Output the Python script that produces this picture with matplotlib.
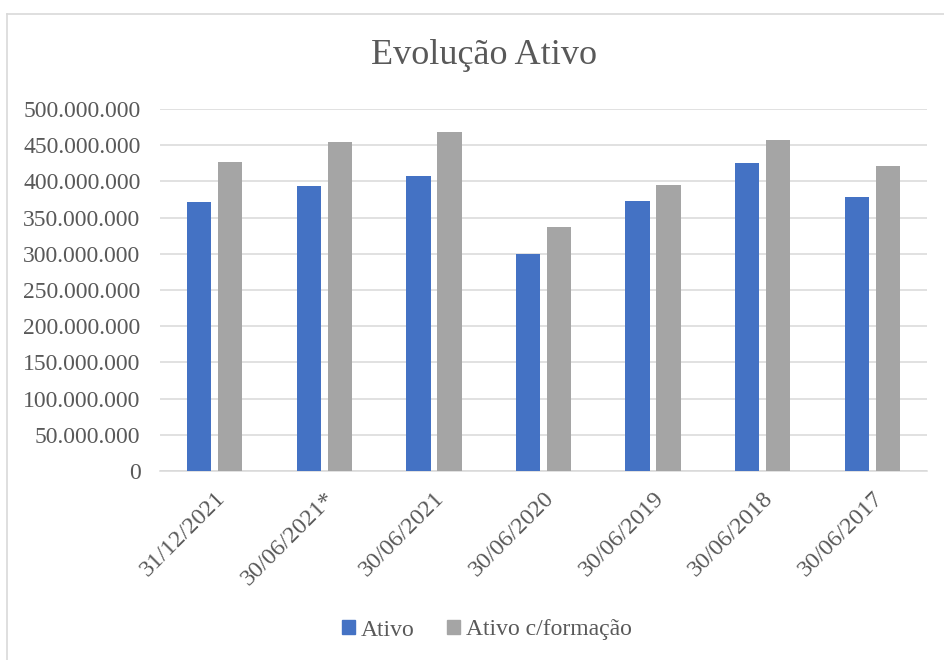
import matplotlib
matplotlib.use("Agg")
import matplotlib.pyplot as plt
import numpy as np
from matplotlib.ticker import FuncFormatter, MultipleLocator
from matplotlib.patches import Patch
from matplotlib.lines import Line2D

# Data
categories = ["31/12/2021", "30/06/2021*", "30/06/2021", "30/06/2020",
              "30/06/2019", "30/06/2018", "30/06/2017"]
ativo = [371_500_000, 393_000_000, 407_000_000, 300_000_000,
         373_000_000, 426_000_000, 378_000_000]
ativo_formacao = [427_000_000, 454_000_000, 468_500_000, 337_000_000,
                  394_500_000, 456_500_000, 421_000_000]
series_names = ["Ativo", "Ativo c/formação"]

BLUE = "#4472C4"
GRAY = "#A5A5A5"
TEXT = "#595959"
GRID = "#D9D9D9"

plt.rcParams["font.family"] = ["Liberation Serif", "DejaVu Serif"]

fig = plt.figure(figsize=(9.44, 6.6), dpi=100)
ax = fig.add_axes([160 / 944, 1 - 471 / 660, 767 / 944, 362 / 660])

x = np.arange(len(categories))
w = 0.222
gap = 0.061
ax.bar(x - (w + gap) / 2, ativo, width=w, color=BLUE, zorder=3)
ax.bar(x + (w + gap) / 2, ativo_formacao, width=w, color=GRAY, zorder=3)

ax.set_xlim(-0.5, len(categories) - 0.5)
ax.set_ylim(0, 500_000_000)
ax.yaxis.set_major_locator(MultipleLocator(50_000_000))
ax.yaxis.set_major_formatter(FuncFormatter(lambda v, p: f"{int(v):,}".replace(",", ".")))
ax.grid(axis="y", color=GRID, linewidth=1.1, zorder=0)

for s in ["left", "right", "top"]:
    ax.spines[s].set_visible(False)
ax.spines["bottom"].set_color(GRID)
ax.spines["bottom"].set_linewidth(1.1)

ax.tick_params(axis="y", length=0, pad=14, labelsize=17, labelcolor=TEXT)
ax.tick_params(axis="x", length=0, pad=12, labelsize=17.5, labelcolor=TEXT)
ax.set_xticks(x)
ax.set_xticklabels(categories, rotation=45, ha="right", rotation_mode="anchor")

fig.text(484 / 944, 1 - 56 / 660, "Evolução Ativo", ha="center", va="center",
         fontsize=26, color=TEXT)

handles = [Patch(color=BLUE), Patch(color=GRAY)]
fig.legend(handles, series_names, loc="center", bbox_to_anchor=(487 / 944, 1 - 630 / 660),
           ncol=2, frameon=False, fontsize=17, labelcolor=TEXT,
           handlelength=0.55, handleheight=0.55, handletextpad=0.25, columnspacing=1.4)

# chart border (top and left edges visible)
fig.add_artist(Line2D([7 / 944, 1.0], [1 - 14 / 660] * 2, color=GRID, linewidth=1.2,
                      transform=fig.transFigure))
fig.add_artist(Line2D([7 / 944] * 2, [0.0, 1 - 14 / 660], color=GRID, linewidth=1.2,
                      transform=fig.transFigure))

fig.savefig("out.png", dpi=100)
